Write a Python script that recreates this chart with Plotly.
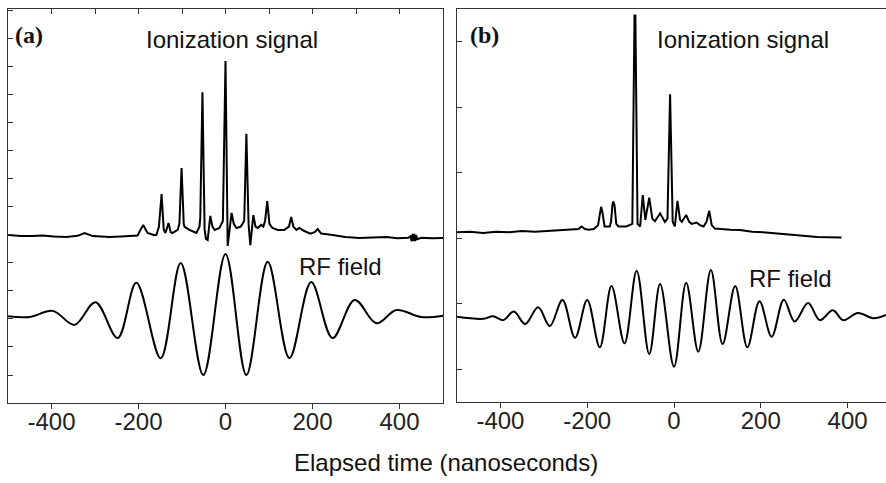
import plotly.graph_objects as go

# ---------------- data ----------------
# Panel (a): ionization signal
a_ion_t = [-500, -470, -444, -420, -395, -366, -340, -324, -305, -267, -240, -215, -202, -195, -189, -184,
           -179, -165, -159, -153, -147, -142, -138, -131, -126, -122, -110, -106, -101, -96, -94, -83,
           -67, -60, -58, -53, -48, -45, -41, -35, -30, -25, -14, -6, 0, 5, 9, 14, 19, 25, 35, 43, 48,
           53, 57, 64, 69, 74, 82, 87, 91, 96, 101, 108, 120, 135, 146, 151, 156, 163, 170, 180, 195,
           205, 212, 220, 246, 275, 308, 340, 370, 395, 420, 425, 428, 430, 432, 434, 436, 438, 441,
           450, 475, 500]
a_ion_v = [6.0, 5.96, 5.96, 5.98, 5.95, 5.93, 5.97, 6.07, 5.96, 5.93, 5.95, 5.96, 5.98, 6.2, 6.36, 6.2,
           6.07, 6.0, 6.0, 6.3, 7.46, 6.2, 6.07, 6.43, 6.1, 6.07, 6.18, 6.4, 8.39, 6.4, 6.29, 6.18,
           6.07, 6.29, 6.6, 11.1, 6.2, 5.86, 5.82, 6.68, 6.3, 6.18, 6.25, 6.5, 12.21, 5.61, 6.2, 6.79,
           6.4, 6.25, 6.3, 6.5, 9.61, 6.4, 5.64, 6.71, 6.3, 6.25, 6.36, 6.3, 6.5, 7.21, 6.4, 6.25,
           6.18, 6.18, 6.3, 6.64, 6.3, 6.18, 6.25, 6.15, 6.05, 6.1, 6.21, 6.05, 6.0, 5.93, 5.89, 5.92,
           5.93, 5.88, 5.9, 5.95, 5.78, 6.04, 5.78, 6.04, 5.78, 6.0, 5.85,
           5.9, 5.88, 5.89]

# Panel (a): RF field (extrema)
a_rf_t = [-500, -450, -397, -347, -299, -248, -205, -149, -103, -51, 0, 48, 97, 147, 197, 246, 297, 347,
          393, 450, 500]
a_rf_v = [3.1, 3.07, 3.29, 2.79, 3.6, 2.32, 4.29, 1.6, 5.0, 1.0, 5.32, 1.0, 5.04, 1.6, 4.32, 2.32, 3.68,
          2.85, 3.32, 3.07, 3.12]

# Panel (b): ionization signal
b_ion_t = [-500, -470, -440, -410, -380, -350, -320, -290, -260, -232, -220, -213, -205, -197, -185,
           -175, -171, -168, -165, -160, -148, -145, -142, -140, -137, -133, -128, -110, -96, -91, -89,
           -84, -78, -72, -66, -57, -50, -44, -32, -21, -15, -9, -3, 2, 8, 14, 18, 28, 35, 41, 52, 60,
           68, 75, 81, 87, 94, 110, 130, 152, 180, 205, 229, 255, 280, 306, 330, 355, 386]
b_ion_v = [2.59, 2.60, 2.58, 2.60, 2.59, 2.61, 2.60, 2.61, 2.62, 2.63, 2.64, 2.68, 2.64, 2.63, 2.64,
           2.70, 2.90, 2.98, 2.90, 2.68, 2.68, 2.75, 3.0, 3.06, 3.0, 2.72, 2.68, 2.68, 2.72, 5.90, 5.90,
           2.72, 2.68, 3.16, 2.78, 3.12, 2.80, 2.76, 2.88, 2.75, 2.80, 4.70, 2.75, 2.68, 3.07, 2.78,
           2.75, 2.855, 2.75, 2.72, 2.74, 2.70, 2.68, 2.75, 2.92, 2.70, 2.65, 2.64, 2.63, 2.626, 2.60,
           2.59, 2.575, 2.56, 2.55, 2.534, 2.52, 2.515, 2.51]

# Panel (b): RF field (extrema)
b_rf_t = [-500, -439, -417, -394, -369, -343, -313, -286, -257, -228, -200, -171, -144, -114, -86, -57,
          -32, 0, 28, 56, 85, 112, 141, 169, 197, 225, 253, 278, 309, 336, 366, 390, 424, 459, 488]
b_rf_v = [1.30, 1.27, 1.31, 1.25, 1.38, 1.19, 1.445, 1.16, 1.557, 0.98, 1.557, 0.835, 1.77, 0.896,
          2.005, 0.733, 1.80, 0.539, 1.82, 0.768, 2.015, 0.885, 1.77, 0.835, 1.54, 0.997, 1.56, 1.23,
          1.51, 1.25, 1.40, 1.25, 1.36, 1.28, 1.33]

x_ticks = [-400, -200, 0, 200, 400]
x_tick_text = ["-400", "-200", "0", "200", "400"]
a_y_ticks = list(range(1, 15))
b_y_ticks = [0.5, 1.5, 2.5, 3.5, 4.5, 5.5]

# ---------------- figure ----------------
W, H = 886, 483
def px(x):
    return x / W
def py(y):
    return 1 - y / H

LINE = dict(color="black", width=2)
SPL = dict(color="black", width=2, shape="spline", smoothing=1.0)
fig = go.Figure()
fig.add_trace(go.Scatter(x=a_ion_t, y=a_ion_v, mode="lines", line=LINE, xaxis="x", yaxis="y"))
fig.add_trace(go.Scatter(x=a_rf_t, y=a_rf_v, mode="lines", line=SPL, xaxis="x", yaxis="y"))
fig.add_trace(go.Scatter(x=b_ion_t, y=b_ion_v, mode="lines", line=LINE, xaxis="x2", yaxis="y2"))
fig.add_trace(go.Scatter(x=b_rf_t, y=b_rf_v, mode="lines", line=SPL, xaxis="x2", yaxis="y2"))
# empty trace so the top tick axis of panel (a) is drawn
fig.add_trace(go.Scatter(x=[None], y=[None], xaxis="x3", yaxis="y", showlegend=False))

axcol = "#333333"
tickfont = dict(family="Liberation Sans, Arial, sans-serif", size=24, color="#222222")

fig.update_layout(
    width=W, height=H,
    margin=dict(l=0, r=0, t=0, b=0),
    paper_bgcolor="white", plot_bgcolor="white",
    showlegend=False,
    xaxis=dict(domain=[px(8), px(443)], range=[-500, 500], anchor="y",
               tickmode="array", tickvals=x_ticks, ticktext=x_tick_text,
               ticks="outside", ticklen=5, tickcolor=axcol, tickfont=tickfont,
               ticklabelstandoff=-8,
               showline=True, linecolor=axcol, linewidth=1, mirror=True,
               showgrid=False, zeroline=False),
    xaxis3=dict(overlaying="x", side="top", anchor="y", range=[-500, 500], dtick=100, tick0=0,
                ticks="inside", ticklen=5, tickcolor=axcol, showticklabels=False,
                showline=False, showgrid=False, zeroline=False),
    yaxis=dict(domain=[py(403), py(9)], range=[0, 14.07], anchor="x",
               tickmode="array", tickvals=a_y_ticks, ticks="inside", ticklen=5, tickcolor=axcol,
               showticklabels=False, showline=True, linecolor=axcol, linewidth=1, mirror=True,
               showgrid=False, zeroline=False),
    xaxis2=dict(domain=[px(457), 1.0], range=[-500, 488.5], anchor="y2",
                tickmode="array", tickvals=x_ticks, ticktext=x_tick_text,
                ticks="outside", ticklen=5, tickcolor=axcol, tickfont=tickfont,
                ticklabelstandoff=-8,
                showline=True, linecolor=axcol, linewidth=1, mirror=True,
                showgrid=False, zeroline=False),
    yaxis2=dict(domain=[py(402), py(9)], range=[0, 6.0], anchor="x2",
                tickmode="array", tickvals=b_y_ticks, ticks="inside", ticklen=5, tickcolor=axcol,
                showticklabels=False, showline=True, linecolor=axcol, linewidth=1, mirror=False,
                showgrid=False, zeroline=False),
)

textfont = dict(family="Liberation Sans, Arial, sans-serif", size=24, color="#111111")
labfont = dict(family="Liberation Serif, Times New Roman, serif", size=24, color="#111111")
annots = [
    ("<b>(a)</b>", 29, 35, labfont),
    ("Ionization signal", 231.5, 40, textfont),
    ("RF field", 340, 266, textfont),
    ("<b>(b)</b>", 484, 35, labfont),
    ("Ionization signal", 742.5, 40, textfont),
    ("RF field", 790.5, 278, textfont),
    ("Elapsed time (nanoseconds)", 446, 462, textfont),
]
for text, x, y, f in annots:
    fig.add_annotation(text=text, x=px(x), y=py(y), xref="paper", yref="paper",
                       xanchor="center", yanchor="middle", showarrow=False, font=f)

fig.write_html("out.html")
